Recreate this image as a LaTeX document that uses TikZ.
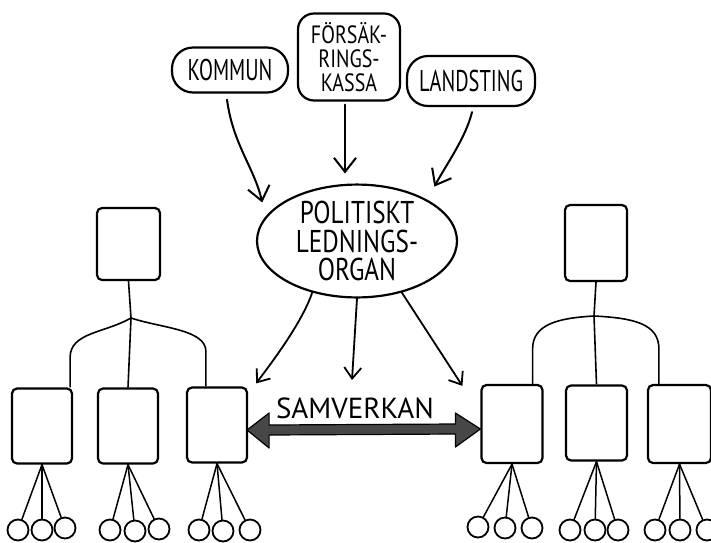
\documentclass[tikz,border=0pt]{standalone}
\usepackage{fontspec}
\setmainfont{PT Sans}[FakeStretch=0.68]
\newfontfamily\widehand{PT Sans}[FakeStretch=0.8]
\newfontfamily\plainhand{PT Sans}
\usetikzlibrary{calc,arrows.meta,shapes.geometric}

\begin{document}
\begin{tikzpicture}[x=1pt,y=-1pt,
  orgbox/.style={draw, line width=2.2pt, rounded corners=5pt, minimum width=60pt,
    minimum height=75pt, inner sep=0pt},
  unit/.style={circle, draw, line width=1.8pt, minimum size=21pt, inner sep=0pt},
  pill/.style={draw, line width=2.2pt, rounded corners=21pt, inner sep=0pt, align=center,
    font=\fontsize{30}{24}\selectfont},
  arr/.style={line width=2pt, line cap=round,
    -{Straight Barb[length=14pt,width=22pt,line width=2pt]}},
  arrs/.style={line width=1.8pt, line cap=round,
    -{Straight Barb[length=11pt,width=17pt,line width=1.8pt]}},
  branch/.style={line width=1.6pt},
  fan/.style={line width=1.5pt, line cap=round},
]
\useasboundingbox (0,0) rectangle (711,542);
\fill[white] (0,0) rectangle (711,542);

% --- the three bodies on top
\node[pill, minimum width=116pt, minimum height=45pt] (kommun) at (230,70) {KOMMUN};
\node[pill, rounded corners=16pt, minimum width=102pt, minimum height=87pt,
  font=\widehand\fontsize{25}{24}\selectfont] (fors) at (349,57) {FÖRSÄK-\\RINGS-\\KASSA};
\node[pill, minimum width=128pt, minimum height=50pt] (land) at (471,81) {LANDSTING};

% --- the political body
\node[ellipse, draw, line width=2.2pt, minimum width=200pt, minimum height=112pt,
  inner sep=0pt, align=center, font=\widehand\fontsize{31.5}{28.5}\selectfont]
  (pol) at (357,241) {POLITISKT\\LEDNINGS-\\ORGAN};

% --- left organisation
\node[orgbox, minimum width=63pt, minimum height=72pt] (Lt) at (128.5,244) {};
\node[orgbox] (L1) at (42,426) {};
\node[orgbox] (L2) at (128,426) {};
\node[orgbox] (L3) at (217,425) {};
\coordinate (Lj) at (131,318);
\draw[branch] (Lt.south) -- (Lj) -- (L2.north);
\draw[branch] (Lj) .. controls +(-26,15) and +(0,-25) .. ($(L1.north east)+(-3,-30)$)
  -- ([xshift=-3pt]L1.north east);
\draw[branch] (Lj) .. controls +(30,10) and +(0,-22) .. ($(L3.north west)+(20,-35)$)
  -- ([xshift=20pt]L3.north west);

% --- right organisation
\node[orgbox, minimum width=62pt, minimum height=76pt] (Rt) at (596,243) {};
\node[orgbox, minimum width=61pt, minimum height=78pt] (R1) at (512,424) {};
\node[orgbox, minimum width=61pt, minimum height=75pt] (R2) at (596.5,423) {};
\node[orgbox, minimum width=63pt, minimum height=78pt] (R3) at (679.5,424) {};
\coordinate (Rj) at (594,316);
\draw[branch] (Rt.south) -- (Rj) -- (R2.north);
\draw[branch] (Rj) .. controls +(-35,2) and +(0,-25) .. ($(R1.north east)+(-11,-35)$)
  -- ([xshift=-11pt]R1.north east);
\draw[branch] (Rj) .. controls +(40,2) and +(0,-25) .. ($(R3.north west)+(12,-35)$)
  -- ([xshift=12pt]R3.north west);

% --- units under each box
\foreach \b/\n/\x/\y in {
  L1/1/18/530, L1/2/42/530, L1/3/65/528,
  L2/1/110/530, L2/2/135/531, L2/3/159/529,
  L3/1/199/530, L3/2/223/531, L3/3/250/530,
  R1/1/478/527, R1/2/505/528, R1/3/532/528,
  R2/1/570/530, R2/2/595/530, R2/3/618/530,
  R3/1/655/530, R3/2/680/530, R3/3/707/530}{
  \node[unit] (\b u\n) at (\x,\y) {};
  \draw[fan] (\b.south) -- (\b u\n);
}

% --- arrows into the political body
\draw[arr] ($(kommun.south)+(-3,6)$) .. controls +(6,45) and +(-8,-35) .. ($(pol.162)+(-7,-10)$);
\draw[arr] ($(fors.south)+(-4,3)$) -- ($(pol.north)+(-12,-10)$);
\draw[arr] ($(land.south)+(1,5)$) .. controls +(-6,25) and +(12,-22) .. ($(pol.27)+(2,-16)$);

% --- cooperation label and arrows out of the political body
\node[inner sep=0pt, font=\plainhand\fontsize{29}{29}\selectfont] (sam) at (355,408) {SAMVERKAN};
\draw[arrs] (pol.229) .. controls +(-10,30) and +(15,-20) .. ($(L3.north east)+(8,-3)$);
\draw[arrs] (pol.south) -- ($(sam.center)+(-3,-28)$);
\draw[arrs] (pol.311) -- ($(R1.north west)+(-18,2)$);

% --- broad double arrow between the two organisations
\coordinate (sA) at ($(L3.east)+(-1,5)$);
\coordinate (sB) at ($(R1.west)+(0,5)$);
\filldraw[fill=black!72, draw=black, line width=1.2pt, line join=round]
  (sA) -- ($(sA)+(22,-17)$) -- ($(sA)+(22,-5)$) -- ($(sB)+(-25,-5)$)
  -- ($(sB)+(-25,-16)$) -- (sB) -- ($(sB)+(-25,18)$) -- ($(sB)+(-25,5)$)
  -- ($(sA)+(22,5)$) -- ($(sA)+(22,18)$) -- cycle;
\end{tikzpicture}
\end{document}
